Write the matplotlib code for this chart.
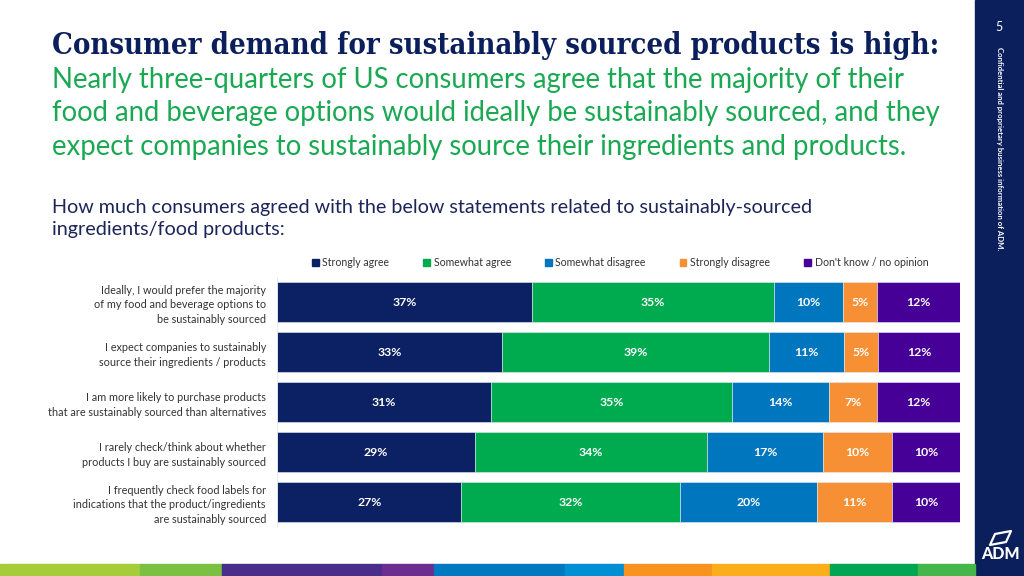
import matplotlib
matplotlib.use("Agg")
import matplotlib.pyplot as plt
import matplotlib.patches as mpatches
import numpy as np

# ------- data -------
statements = [
    "Ideally, I would prefer the majority\nof my food and beverage options to\nbe sustainably sourced",
    "I expect companies to sustainably\nsource their ingredients / products",
    "I am more likely to purchase products\nthat are sustainably sourced than alternatives",
    "I rarely check/think about whether\nproducts I buy are sustainably sourced",
    "I frequently check food labels for\nindications that the product/ingredients\nare sustainably sourced",
]
responses = ["Strongly agree", "Somewhat agree", "Somewhat disagree", "Strongly disagree", "Don't know / no opinion"]
strongly_agree = [37, 33, 31, 29, 27]
somewhat_agree = [35, 39, 35, 34, 32]
somewhat_disagree = [10, 11, 14, 17, 20]
strongly_disagree = [5, 5, 7, 10, 11]
dont_know = [12, 12, 12, 10, 10]

colors = ["#0C2064", "#00AB50", "#0076BE", "#F79034", "#470097"]

NAVY = "#0A1F5C"
GREEN = "#1AA952"
W, H = 1024, 576


def fx(x):
    return x / W


def fy(y):
    return 1 - y / H


plt.rcParams["font.family"] = ["Lato", "DejaVu Sans"]
fig = plt.figure(figsize=(W / 100, H / 100), dpi=100)
fig.patch.set_facecolor("white")

# ------- headline text -------
fig.text(fx(52), fy(46), "Consumer demand for sustainably sourced products is high:",
         family=["DejaVu Serif"], stretch="condensed", weight="bold", size=21,
         color=NAVY, va="center", ha="left")
sub_lines = [
    "Nearly three-quarters of US consumers agree that the majority of their",
    "food and beverage options would ideally be sustainably sourced, and they",
    "expect companies to sustainably source their ingredients and products.",
]
for i, line in enumerate(sub_lines):
    fig.text(fx(52), fy(80 + i * 33.5), line, size=19.8, color=GREEN, va="center", ha="left")

fig.text(fx(52), fy(208), "How much consumers agreed with the below statements related to sustainably-sourced",
         size=14.2, color="#1B2559", va="center", ha="left")
fig.text(fx(52), fy(230), "ingredients/food products:", size=14.2, color="#1B2559", va="center", ha="left")

# ------- stacked bars -------
table = np.array([strongly_agree, somewhat_agree, somewhat_disagree, strongly_disagree, dont_know], dtype=float)
shares = table / table.sum(axis=0) * 100  # bars fill the full width per row

ax = fig.add_axes([fx(277), fy(527), fx(960) - fx(277), fy(277) - fy(527)])
ypos = np.arange(len(statements))
left = np.zeros(len(statements))
for k, name in enumerate(responses):
    ax.barh(ypos, shares[k], left=left, height=0.8, color=colors[k], label=name,
            edgecolor="#E3EBF3", linewidth=0.4)
    for r in range(len(statements)):
        ax.text(left[r] + shares[k][r] / 2, ypos[r], f"{int(table[k][r])}%",
                ha="center", va="center", color="white", weight="bold", size=8.8)
    left += shares[k]

ax.set_xlim(0, 100)
ax.set_ylim(len(statements) - 0.5, -0.5)
ax.set_yticks(ypos)
ax.set_yticklabels(statements, size=7.8, color="#333333", linespacing=1.42)
ax.tick_params(axis="y", length=0, pad=8)
ax.set_xticks([])
for side in ["top", "right", "bottom"]:
    ax.spines[side].set_visible(False)
ax.spines["left"].set_color("#E6E6E6")
ax.spines["left"].set_linewidth(0.6)

handles = [mpatches.Patch(color=c) for c in colors]
fig.legend(handles, responses, loc="center", bbox_to_anchor=(fx(620), fy(263)), ncol=5,
           frameon=False, fontsize=7.6, handlelength=0.65, handleheight=0.65,
           handletextpad=0.35, columnspacing=3.2, labelcolor="#333333")

# ------- right sidebar -------
fig.patches.append(mpatches.Rectangle((fx(975), 0), 1 - fx(975), 1, transform=fig.transFigure,
                                      color=NAVY, zorder=0))
fig.text(fx(999), fy(27), "5", color="white", size=9, ha="center", va="center")
fig.text(fx(999), fy(149), "Confidential and proprietary business information of ADM.",
         color="white", size=5.6, rotation=-90, ha="center", va="center", weight="bold")
fig.text(fx(1000), fy(554), "ADM", color="white", size=11.5, weight="black", ha="center", va="center")
leaf = mpatches.Polygon([(fx(990), fy(545)), (fx(995), fy(534)), (fx(1011), fy(531)),
                         (fx(1006), fy(542))], closed=True, transform=fig.transFigure,
                        fill=False, edgecolor="white", linewidth=1.6, joinstyle="round")
fig.patches.append(leaf)

# ------- colour stripe along the bottom -------
stripe_edges = [0, 140, 222, 382, 434, 565, 624, 712, 830, 918, 975]
stripe_colors = ["#A5CD39", "#7AC143", "#4A2C8A", "#6B2D90", "#0079C1",
                 "#008FD5", "#F7931E", "#FBAE1A", "#00A651", "#45B649"]
for a, b, c in zip(stripe_edges[:-1], stripe_edges[1:], stripe_colors):
    fig.patches.append(mpatches.Rectangle((fx(a), 0), fx(b) - fx(a), fy(564), transform=fig.transFigure,
                                          color=c, zorder=0))

fig.savefig("out.png", dpi=100)
